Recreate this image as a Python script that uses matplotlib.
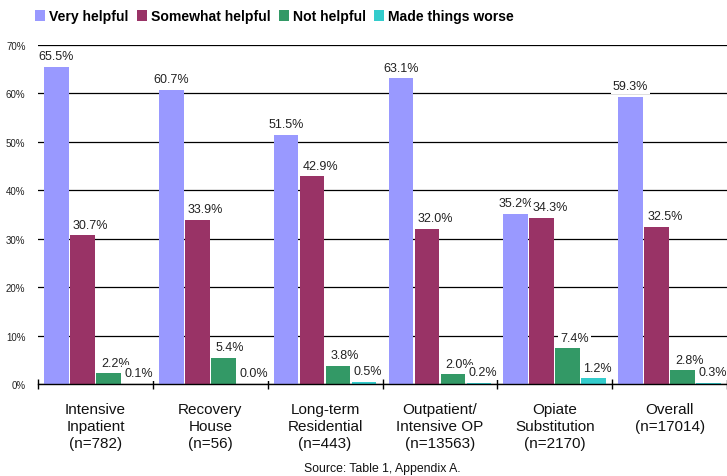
import numpy as np
import matplotlib
matplotlib.use("Agg")
import matplotlib.pyplot as plt

plt.rcParams['font.family'] = ['Liberation Sans', 'DejaVu Sans']

# Data
categories = ["Intensive\nInpatient\n(n=782)", "Recovery\nHouse\n(n=56)",
              "Long-term\nResidential\n(n=443)", "Outpatient/\nIntensive OP\n(n=13563)",
              "Opiate\nSubstitution\n(n=2170)", "Overall\n(n=17014)"]
series = ["Very helpful", "Somewhat helpful", "Not helpful", "Made things worse"]
very_helpful = [65.5, 60.7, 51.5, 63.1, 35.2, 59.3]
somewhat_helpful = [30.7, 33.9, 42.9, 32.0, 34.3, 32.5]
not_helpful = [2.2, 5.4, 3.8, 2.0, 7.4, 2.8]
made_worse = [0.1, 0.0, 0.5, 0.2, 1.2, 0.3]
values = [very_helpful, somewhat_helpful, not_helpful, made_worse]
colors = ["#9999FF", "#993366", "#339966", "#33CCCC"]

fig = plt.figure(figsize=(7.27, 4.77), dpi=100)
ax = fig.add_axes([38/727, 1 - 385/477, 1 - 38/727, (385 - 46)/477])

x = np.arange(len(categories))
step = 0.226
width = 0.215
label_dx = [0, 6, 5, 3]
for i, (name, vals, col) in enumerate(zip(series, values, colors)):
    pos = x + (i - 1.5) * step
    ax.bar(pos, vals, width=width, color=col, label=name, zorder=2)
    for px, v in zip(pos, vals):
        ax.annotate(f"{v:.1f}%", (px, v), xytext=(label_dx[i], 5.5), textcoords="offset points",
                    ha="center", va="baseline", fontsize=9, color="#222222", zorder=4,
                    bbox=dict(boxstyle="square,pad=0.15", fc="white", ec="none"))

ax.set_xlim(-0.5, len(categories) - 0.5)
ax.set_ylim(0, 70)
ax.set_yticks(np.arange(0, 71, 10))
ax.set_yticklabels([f"{t}%" for t in range(0, 71, 10)], fontsize=7, color="#222222")
ax.tick_params(axis="y", length=0, pad=9)
ax.yaxis.grid(True, color="black", linewidth=0.9, zorder=0)
ax.set_axisbelow(True)

ax.set_xticks(x)
ax.set_xticklabels(categories, fontsize=11, linespacing=1.25, color="#111111")
ax.tick_params(axis="x", which="major", length=0, pad=13)
ax.set_xticks(np.arange(-0.5, len(categories), 1), minor=True)
ax.tick_params(axis="x", which="minor", direction="inout", length=7, width=1)

for s in ["top", "right", "left"]:
    ax.spines[s].set_visible(False)
ax.spines["bottom"].set_linewidth(1)
ax.spines["bottom"].set_zorder(3)

leg = fig.legend(loc="center left", bbox_to_anchor=(35/727, 1 - 17.5/477), ncol=4,
                 frameon=False, borderpad=0, borderaxespad=0, handlelength=0.7,
                 handleheight=0.8, handletextpad=0.3, columnspacing=0.6,
                 prop={"weight": "bold", "size": 10.1})

fig.text(382/727, 1 - 469/477, "Source: Table 1, Appendix A.", ha="center", va="center",
         fontsize=8.8, color="#111111")

fig.savefig("out.png", dpi=100)
